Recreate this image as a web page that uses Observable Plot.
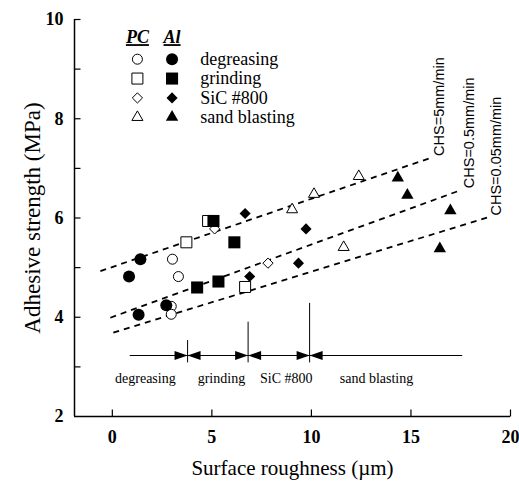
<!DOCTYPE html>
<html><head><meta charset="utf-8">
<script src="https://cdn.jsdelivr.net/npm/d3@7"></script>
<script src="https://cdn.jsdelivr.net/npm/@observablehq/plot@0.6"></script>
<style>
html,body{margin:0;padding:0;background:#fff;}
g[font-style="italic"] text { text-decoration: underline; }
</style></head><body><div id="chart"></div>
<script>
// ---- data ----
const treatments = ["degreasing", "grinding", "SiC #800", "sand blasting"];
const symbolsPC = ["circle", "square", "diamond2", "triangle"];
// PC (open symbols)
const pcX = [[3.02, 3.32, 2.96, 2.96], [3.72, 4.81, 6.67], [5.14, 7.82], [9.03, 10.13, 12.38, 11.62]];
const pcY = [[5.17, 4.82, 4.22, 4.06], [5.51, 5.94, 4.61], [5.78, 5.09], [6.17, 6.48, 6.84, 5.41]];
// Al (filled symbols)
const alX = [[1.41, 0.84, 1.32, 2.71], [5.08, 6.13, 4.26, 5.33], [6.67, 9.73, 9.35, 6.90], [14.34, 14.82, 16.98, 16.45]];
const alY = [[5.17, 4.82, 4.05, 4.24], [5.94, 5.51, 4.60, 4.72], [6.09, 5.78, 5.09, 4.82], [6.81, 6.46, 6.15, 5.38]];
// CHS trend lines
const chsLabels = ["CHS=5mm/min", "CHS=0.5mm/min", "CHS=0.05mm/min"];
const chsX0 = [-0.6, -0.1, 0.05];
const chsY0 = [4.93, 3.99, 3.69];
const chsX1 = [15.98, 17.49, 18.83];
const chsY1 = [7.21, 6.56, 6.01];
// roughness ranges of treatments
const rangeBounds = [3.78, 6.82, 9.91];
const rangeTops = [3.53, 3.90, 4.28];
const rangeLabelX = [1.66, 5.48, 8.74, 13.27];
const rangeSpan = [0.9, 17.6];
// axes
const xTicks = [0, 5, 10, 15, 20];
const yTicks = [2, 4, 6, 8, 10];
const yMinor = [3, 4, 5, 6, 7, 8, 9, 10];
const xLabel = "Surface roughness (\u00b5m)";
const yLabel = "Adhesive strength (MPa)";
const legendHead = ["PC", "Al"];

// ---- layout ----
const X0 = -1.9, X1 = 20, Y0 = 2, Y1 = 10;
const rangeLineY = 3.23, rangeBottom = 3.08, rangeLabelY = 2.77;
const legendPcX = 1.26, legendAlX = 3.0, legendTextX = 4.42, legendY0 = 9.2, legendStep = 0.39, legendHeadY = 9.64;
const rFilled = {circle: 6, square: 6.8, diamond2: 5, triangle: 4.6};
const rOpen = {circle: 5, square: 6.2, diamond2: 4.6, triangle: 4.1};
const serif = "'Liberation Serif','Times New Roman',serif";
const sans = "'Liberation Sans Narrow','Liberation Sans',Arial,sans-serif";

const tickUp = {draw(c) { c.moveTo(0, 0); c.lineTo(0, -7); }};
const tickRight = {draw(c) { c.moveTo(0, 0); c.lineTo(6, 0); }};
const headR = {draw(c) { c.moveTo(0, 0); c.lineTo(-13, -4.5); c.lineTo(-13, 4.5); c.closePath(); }};
const headL = {draw(c) { c.moveTo(0, 0); c.lineTo(13, -4.5); c.lineTo(13, 4.5); c.closePath(); }};

const chsTable = chsLabels.map((label, i) => ({label, x0: chsX0[i], y0: chsY0[i], x1: chsX1[i], y1: chsY1[i]}));

const pointMarks = [];
treatments.forEach((t, i) => {
  const s = symbolsPC[i];
  pointMarks.push(Plot.dot(pcX[i], {x: d => d, y: (d, j) => pcY[i][j], symbol: s, r: rOpen[s], fill: "white", stroke: "black", strokeWidth: 1}));
});
treatments.forEach((t, i) => {
  const s = symbolsPC[i];
  pointMarks.push(Plot.dot(alX[i], {x: d => d, y: (d, j) => alY[i][j], symbol: s, r: rFilled[s], fill: "black", stroke: "none"}));
});

const legendMarks = [
  Plot.text(legendHead, {x: (d, i) => [legendPcX, legendAlX][i], y: () => legendHeadY, text: d => d, fontStyle: "italic", fontWeight: "bold", fontSize: 18, fontFamily: serif}),
  Plot.text(treatments, {x: () => legendTextX, y: (d, i) => legendY0 - i * legendStep, text: d => d, textAnchor: "start", fontSize: 18, fontFamily: serif})
];
treatments.forEach((t, i) => {
  const s = symbolsPC[i];
  legendMarks.push(Plot.dot([t], {x: () => legendPcX, y: () => legendY0 - i * legendStep, symbol: s, r: rOpen[s], fill: "white", stroke: "black", strokeWidth: 1}));
  legendMarks.push(Plot.dot([t], {x: () => legendAlX, y: () => legendY0 - i * legendStep, symbol: s, r: rFilled[s], fill: "black", stroke: "none"}));
});

const chart = Plot.plot({
  width: 519,
  height: 482,
  marginLeft: 74,
  marginRight: 9,
  marginTop: 19,
  marginBottom: 66,
  x: {domain: [X0, X1]},
  y: {domain: [Y0, Y1]},
  style: {fontFamily: serif, fontSize: "14px", background: "#fff", color: "black"},
  marks: [
    Plot.ruleX([X0], {stroke: "black", strokeWidth: 1.5}),
    Plot.ruleY([Y0], {stroke: "black", strokeWidth: 1.3}),
    Plot.dot(xTicks, {x: d => d, y: () => Y0, symbol: tickUp, stroke: "black", strokeWidth: 1.2, fill: "none"}),
    Plot.dot(yMinor, {x: () => X0, y: d => d, symbol: tickRight, stroke: "black", strokeWidth: 1.2, fill: "none"}),
    Plot.axisX(xTicks, {tickSize: 0, tickPadding: 14, tickFormat: d => String(d), fontSize: 18, fontWeight: "bold", fontFamily: serif, label: null}),
    Plot.axisY(yTicks, {tickSize: 0, tickPadding: 11, tickFormat: d => String(d), fontSize: 18, fontWeight: "bold", fontFamily: serif, label: null}),
    Plot.text([xLabel], {frameAnchor: "bottom", dy: 52, lineAnchor: "middle", textAnchor: "middle", text: d => d, fontSize: 21, fontFamily: serif}),
    Plot.text([yLabel], {frameAnchor: "left", dx: -42, rotate: -90, lineAnchor: "middle", textAnchor: "middle", text: d => d, fontSize: 23, fontFamily: serif}),
    // CHS lines
    Plot.link(chsTable, {x1: "x0", y1: "y0", x2: "x1", y2: "y1", stroke: "black", strokeWidth: 1.8, strokeDasharray: "6,5"}),
    Plot.text(chsTable, {x: "x1", y: "y1", text: "label", rotate: -90, textAnchor: "start", lineAnchor: "middle", dx: 9, dy: -2, fontSize: 14.5, fontFamily: sans}),
    // treatment ranges
    Plot.ruleY([rangeLineY], {x1: rangeSpan[0], x2: rangeSpan[1], stroke: "black", strokeWidth: 1.1}),
    Plot.ruleX(rangeBounds, {x: d => d, y1: () => rangeBottom, y2: (d, i) => rangeTops[i], stroke: "black", strokeWidth: 1}),
    Plot.dot(rangeBounds, {x: d => d, y: () => rangeLineY, symbol: headR, fill: "black", stroke: "none"}),
    Plot.dot(rangeBounds, {x: d => d, y: () => rangeLineY, symbol: headL, fill: "black", stroke: "none"}),
    Plot.text(treatments, {x: (d, i) => rangeLabelX[i], y: () => rangeLabelY, text: d => d, fontSize: 14, fontFamily: serif}),
    ...pointMarks,
    ...legendMarks
  ]
});
document.getElementById("chart").appendChild(chart);
</script></body></html>
